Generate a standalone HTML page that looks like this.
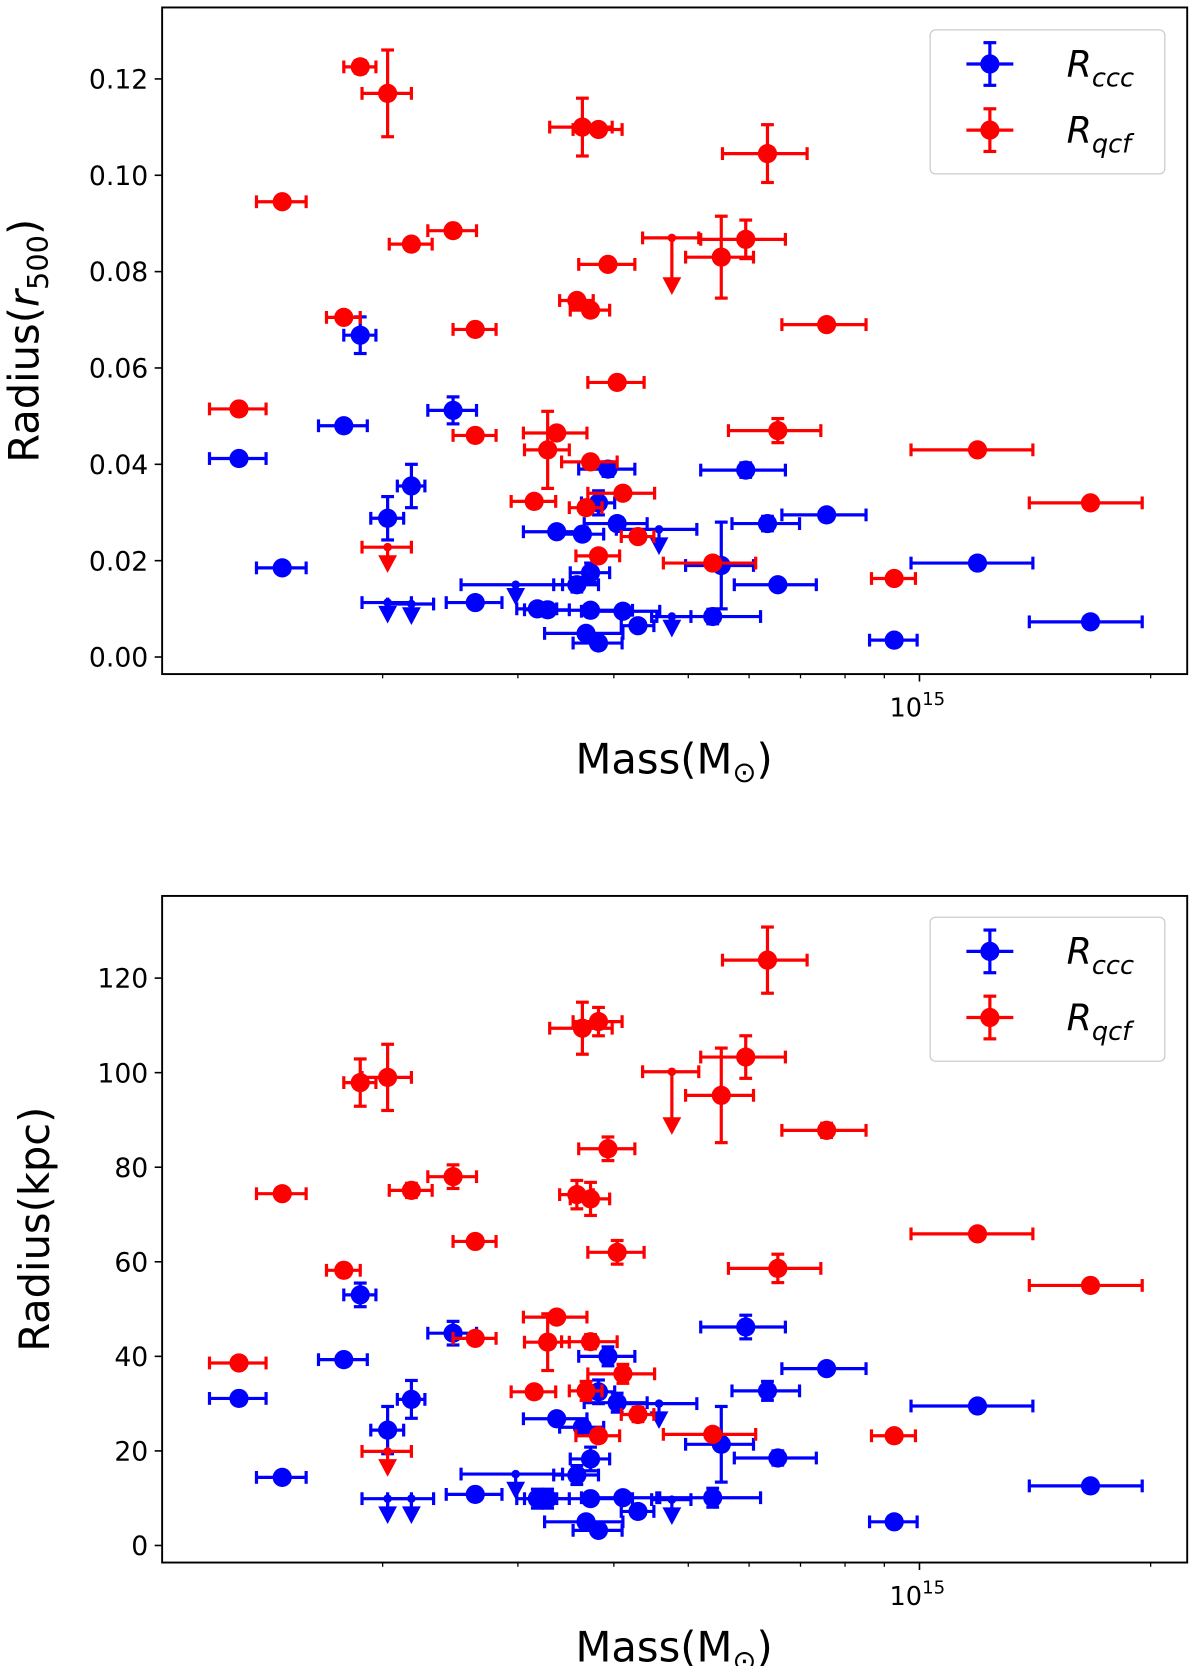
<!DOCTYPE html>
<html><head><meta charset="utf-8"><style>
html,body{margin:0;padding:0;background:#fff;}
svg{display:block;font-family:"DejaVu Sans","Liberation Sans",sans-serif;}
</style></head><body>
<svg id="chart" width="1200" height="1666" viewBox="0 0 1125 1562" preserveAspectRatio="none" xmlns="http://www.w3.org/2000/svg">
<rect width="1125" height="1562" fill="#fff"/>
<g id="top"></g>
<g id="bot"></g>
</svg>
<script>
// masses in units of 1e14 Msun
const redMass=[1.30,1.48,1.78,1.87,2.03,2.18,2.47,2.64,2.64,3.15,3.28,3.37,3.64,3.82,3.58,3.73,3.93,3.73,3.68,4.11,3.82,4.04,4.30,4.76,5.52,5.38,5.94,6.34,6.54,7.57,9.27,11.9,16.7,2.03];
const redMassErr=[0.11,0.11,0.09,0.09,0.15,0.14,0.18,0.17,0.17,0.21,0.22,0.32,0.34,0.28,0.18,0.22,0.33,0.31,0.18,0.41,0.25,0.34,0.21,0.40,0.56,0.74,0.75,0.80,0.90,0.95,0.61,2.15,2.8,0.15];
const redUL=[0,0,0,0,0,0,0,0,0,0,0,0,0,0,0,0,0,0,0,0,0,0,0,1,0,0,0,0,0,0,0,0,0,1];
const redR500=[0.0515,0.0945,0.0705,0.1225,0.117,0.0857,0.0885,0.068,0.046,0.0323,0.043,0.0465,0.110,0.1095,0.074,0.072,0.0815,0.0405,0.031,0.034,0.021,0.057,0.025,0.087,0.083,0.0195,0.0867,0.1045,0.047,0.069,0.0163,0.043,0.032,0.0228];
const redR500Err=[0,0.0009,0.0007,0.0013,0.009,0.0007,0.0008,0,0,0,0.008,0.001,0.006,0.0008,0.0011,0.0012,0.0011,0.001,0.0008,0.001,0,0.0007,0,0.0105,0.0085,0,0.004,0.006,0.0025,0,0,0,0,0.004];
const redKpc=[38.6,74.4,58.2,97.9,99.0,75.1,78.0,64.3,43.8,32.5,43,48.3,109.4,110.8,74.2,73.3,83.9,43.1,32.7,36.3,23.2,62.0,27.7,100.2,95.2,23.5,103.3,123.8,58.6,87.8,23.2,65.9,55.0,19.9];
const redKpcErr=[0,1,0,5,7,1.5,2.5,0,0,0,6,1,5.5,3,3,3.5,2.5,1.5,2,2,0,2.5,1.5,12,10,0,4.5,7,3,1.5,0,0,0,4];

const blueMass=[1.30,1.48,1.78,1.87,2.03,2.18,2.47,2.64,2.03,2.18,2.98,3.18,3.28,3.37,3.58,3.64,3.73,3.73,3.68,3.82,3.82,3.93,4.04,4.11,4.30,4.58,4.76,5.38,5.52,5.94,6.34,6.54,7.57,9.27,11.9,16.7];
const blueMassErr=[0.11,0.11,0.13,0.09,0.10,0.09,0.18,0.22,0.15,0.15,0.45,0.19,0.22,0.32,0.24,0.24,0.22,0.50,0.43,0.28,0.19,0.33,0.38,0.48,0.21,0.55,0.28,0.83,0.56,0.75,0.64,0.80,0.95,0.66,2.15,2.8];
const blueUL=[0,0,0,0,0,0,0,0,1,1,1,0,0,0,0,0,0,0,0,0,0,0,0,0,0,1,1,0,0,0,0,0,0,0,0,0];
const blueR500=[0.0412,0.0185,0.048,0.0668,0.0288,0.0355,0.0512,0.0113,0.0113,0.0110,0.015,0.010,0.0098,0.026,0.015,0.0255,0.0175,0.0097,0.0049,0.0029,0.032,0.039,0.0277,0.0095,0.0065,0.0265,0.0084,0.0084,0.019,0.0388,0.0277,0.015,0.0295,0.0035,0.0195,0.0073];
const blueR500Err=[0.0004,0.0004,0.001,0.0038,0.0045,0.0045,0.0028,0.001,0.003,0.003,0.003,0.0008,0.001,0.0005,0.0015,0.0005,0.002,0.0005,0.0008,0.0005,0.0025,0.0015,0.0012,0.0007,0.0008,0.004,0.003,0.0015,0.009,0.0015,0.0015,0,0.0007,0,0,0];
const blueKpc=[31.1,14.4,39.3,53.0,24.4,30.9,44.9,10.8,9.9,9.9,15.1,9.9,9.9,26.8,14.9,25,18.3,9.9,5,3.2,32.5,40,30.2,10.1,7.2,30,9.7,10.1,21.4,46.2,32.7,18.5,37.4,5,29.5,12.6];
const blueKpcErr=[0,0,1,2.5,5,4,2.5,1,4,4,4,2,2,1,2,1.5,2.5,0.5,1,1,2.5,2,2,1,1,4,4,2,8,2.5,2,1.5,1,0,0,0];

const r500Ticks=[0,0.02,0.04,0.06,0.08,0.10,0.12];
const r500TickLabels=["0.00","0.02","0.04","0.06","0.08","0.10","0.12"];
const kpcTicks=[0,20,40,60,80,100,120];
const kpcTickLabels=["0","20","40","60","80","100","120"];
const minorMassTicks=[2,3,4,5,6,7,8,9,20];

const NS="http://www.w3.org/2000/svg";
const L=152,R=1113;
function xS(m){return 862+720*(Math.log10(m)-1);}
function mk(parent,tag,attrs){const e=document.createElementNS(NS,tag);for(const k in attrs)e.setAttribute(k,attrs[k]);parent.appendChild(e);return e;}

function panel(g,top,bottom,yS,ticks,tickLabels,ylabelParts,ylabelX,mass1,merr1,val1,err1,ul1,mass2,merr2,val2,err2,ul2,legendY){
  const series=[[mass1,merr1,val1,err1,ul1,'#0000ff','ccc'],[mass2,merr2,val2,err2,ul2,'#ff0000','qcf']];
  series.forEach(s=>{
    const [ms,me,vs,ve,ul,col,nm]=s;
    const sg=mk(g,'g',{});
    
    
    for(let i=0;i<ms.length;i++){
      const pg=mk(sg,'g',{stroke:col,fill:col,'stroke-width':3});
      
      
      const cx=xS(ms[i]),cy=yS(vs[i]);
      const x1=xS(ms[i]-me[i]),x2=xS(ms[i]+me[i]);
      mk(pg,'line',{x1:x1,x2:x2,y1:cy,y2:cy});
      mk(pg,'line',{x1:x1,x2:x1,y1:cy-6,y2:cy+6});
      mk(pg,'line',{x1:x2,x2:x2,y1:cy-6,y2:cy+6});
      if(ul[i]){
        const yb=yS(vs[i]-ve[i]);
        mk(pg,'line',{x1:cx,x2:cx,y1:cy,y2:yb-4});
        mk(pg,'polygon',{points:(cx-8)+','+(yb-10)+' '+(cx+8)+','+(yb-10)+' '+cx+','+(yb+5),'stroke-width':1});
        mk(pg,'circle',{cx:cx,cy:cy,r:4,stroke:'none'});
      }else{
        if(ve[i]>0){
          const ya=yS(vs[i]+ve[i]),yb=yS(vs[i]-ve[i]);
          mk(pg,'line',{x1:cx,x2:cx,y1:ya,y2:yb});
          mk(pg,'line',{x1:cx-6,x2:cx+6,y1:ya,y2:ya});
          mk(pg,'line',{x1:cx-6,x2:cx+6,y1:yb,y2:yb});
        }
        mk(pg,'circle',{cx:cx,cy:cy,r:9,stroke:'none'});
      }
    }
  });
  const fr=mk(g,'rect',{x:L,y:top,width:R-L,height:bottom-top,fill:'none',stroke:'#000','stroke-width':1.8});
  
  ticks.forEach((t,i)=>{
    const y=yS(t);
    mk(g,'line',{x1:L-7,x2:L,y1:y,y2:y,stroke:'#000','stroke-width':1.5});
    const tx=mk(g,'text',{x:L-13,y:y+9,'text-anchor':'end','font-size':25,fill:'#000'});
    tx.textContent=tickLabels[i];
    
  });
  minorMassTicks.forEach(m=>{const x=xS(m);mk(g,'line',{x1:x,x2:x,y1:bottom,y2:bottom+4,stroke:'#000','stroke-width':1.2});});
  mk(g,'line',{x1:xS(10),x2:xS(10),y1:bottom,y2:bottom+7,stroke:'#000','stroke-width':1.5});
  const xl=mk(g,'text',{x:xS(10)-2,y:bottom+40,'text-anchor':'middle','font-size':24});
  xl.innerHTML='10<tspan dy="-11" font-size="17">15</tspan>';
  
  const xt=mk(g,'text',{x:632,y:bottom+93,'text-anchor':'middle','font-size':39});
  xt.innerHTML='Mass(M<tspan dy="8" font-size="27">⊙</tspan><tspan dy="-8">)</tspan>';
  
  const ym=(top+bottom)/2;
  const yt=mk(g,'text',{x:ylabelX,y:ym,'text-anchor':'middle','font-size':39,transform:'rotate(-90 '+ylabelX+' '+ym+')'});
  yt.innerHTML=ylabelParts;
  
  const lg=mk(g,'g',{});
  
  mk(lg,'rect',{x:872,y:legendY,width:220,height:135,rx:5,fill:'#fff',stroke:'#ccc','stroke-width':1.2});
  [['#0000ff','ccc',legendY+32],['#ff0000','qcf',legendY+94]].forEach(e=>{
    const eg=mk(lg,'g',{stroke:e[0],fill:e[0],'stroke-width':3});
    
    mk(eg,'line',{x1:906,x2:950,y1:e[2],y2:e[2]});
    mk(eg,'line',{x1:928,x2:928,y1:e[2]-20,y2:e[2]+20});
    mk(eg,'line',{x1:922,x2:934,y1:e[2]-20,y2:e[2]-20});
    mk(eg,'line',{x1:922,x2:934,y1:e[2]+20,y2:e[2]+20});
    mk(eg,'circle',{cx:928,cy:e[2],r:9,stroke:'none'});
    const t=mk(lg,'text',{x:1000,y:e[2]+12,'font-size':34,'font-style':'italic',fill:'#000'});
    t.innerHTML='R<tspan dy="9" font-size="24">'+e[1]+'</tspan>';
  });
}

const yTop=v=>616-v*4516.7;
const yBot=v=>1449-v*4.433;
panel(document.getElementById('top'),7,632,yTop,r500Ticks,r500TickLabels,'Radius(<tspan font-style="italic">r</tspan><tspan dy="9" font-size="27">500</tspan><tspan dy="-9">)</tspan>',36,
  blueMass,blueMassErr,blueR500,blueR500Err,blueUL,redMass,redMassErr,redR500,redR500Err,redUL,28);
panel(document.getElementById('bot'),840,1465,yBot,kpcTicks,kpcTickLabels,'Radius(kpc)',46,
  blueMass,blueMassErr,blueKpc,blueKpcErr,blueUL,redMass,redMassErr,redKpc,redKpcErr,redUL,860);
</script>
</body></html>
